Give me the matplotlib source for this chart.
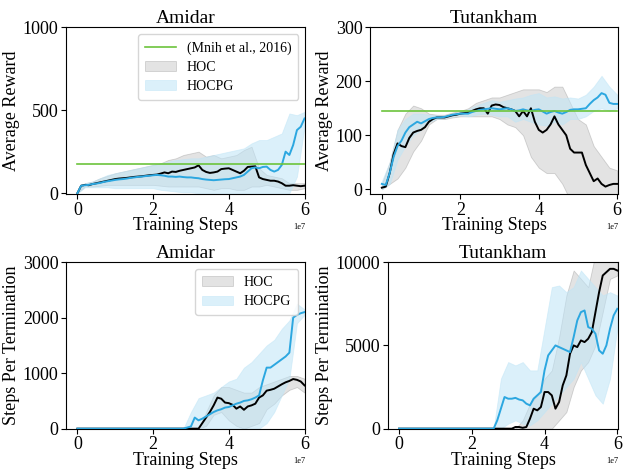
import numpy as np
import matplotlib
matplotlib.use("Agg")
import matplotlib.pyplot as plt

plt.rcParams['font.family'] = ['Liberation Serif', 'DejaVu Serif']
plt.rcParams['mathtext.fontset'] = 'stix'

# x positions in units of 1e7 training steps
steps = np.round(np.arange(0, 6.01, 0.1), 2)
band_steps = np.round(np.arange(0, 6.01, 0.2), 2)

# ---- Amidar, average reward ----
am_rew_hoc = [0, 45, 50, 48, 55, 60, 65, 70, 75, 80, 85, 88, 90, 92, 95, 98, 100, 102, 105, 108,
              110, 112, 118, 125, 120, 130, 128, 135, 140, 145, 150, 155, 168, 140, 128, 122, 125, 130, 145, 148,
              150, 140, 130, 120, 135, 158, 160, 162, 95, 85, 80, 75, 75, 70, 60, 45, 45, 48, 45, 42, 45]
am_rew_hocpg = [0, 45, 48, 50, 55, 58, 62, 68, 72, 76, 80, 83, 85, 88, 92, 95, 98, 100, 103, 105,
                108, 110, 108, 105, 100, 100, 98, 100, 97, 95, 95, 92, 90, 85, 82, 80, 78, 80, 82, 84,
                85, 90, 95, 100, 110, 130, 150, 155, 150, 158, 160, 140, 130, 140, 170, 250, 230, 290, 380, 400, 450]
am_rew_hoc_lo = [0, 40, 40, 45, 50, 50, 50, 50, 50, 50, 50, 45, 40, 40, 40, 40, 40, 30, 20, 30,
                 30, 20, 20, 40, 40, 50, 40, 30, 20, 20, 30]
am_rew_hoc_hi = [0, 60, 70, 90, 105, 120, 130, 140, 150, 160, 170, 180, 200, 210, 230, 240, 250, 220, 230, 210,
                 220, 230, 260, 280, 150, 110, 100, 90, 60, 60, 60]
am_rew_hocpg_lo = [0, 35, 35, 35, 35, 30, 30, 30, 30, 30, 30, 20, 15, 10, 5, 5, 0, 0, 0, 0,
                   0, 0, 0, 0, 0, 0, 0, 0, 0, 100, 400]
am_rew_hocpg_hi = [0, 60, 70, 90, 110, 120, 130, 140, 150, 160, 170, 180, 190, 200, 205, 210, 210, 220, 230, 240,
                   250, 260, 270, 300, 320, 320, 340, 360, 480, 470, 490]
am_baseline = 173

# ---- Tutankham, average reward ----
tu_rew_hoc = [3, 5, 30, 65, 85, 80, 78, 95, 105, 108, 110, 115, 125, 130, 133, 133, 133, 135, 137, 138,
              140, 141, 142, 145, 148, 150, 150, 140, 155, 157, 156, 152, 150, 148, 145, 135, 145, 135, 150, 125,
              110, 105, 110, 120, 135, 120, 110, 100, 75, 68, 68, 68, 45, 30, 15, 20, 10, 5, 8, 10, 10]
tu_rew_hocpg = [10, 8, 30, 60, 80, 90, 105, 115, 120, 125, 122, 126, 130, 132, 133, 133, 134, 136, 138, 139,
                140, 140, 140, 143, 145, 147, 148, 149, 150, 149, 148, 149, 150, 148, 145, 146, 148, 146, 145, 147,
                148, 144, 140, 143, 145, 142, 140, 143, 147, 148, 148, 149, 150, 158, 165, 170, 178, 175, 160, 158, 158]
tu_rew_hoc_lo = [0, 10, 20, 40, 70, 90, 120, 130, 130, 133, 135, 135, 135, 135, 135, 130, 120, 115, 100, 60,
                 40, 30, 30, 10, -20, -30, -30, -30, -20, -15, -10]
tu_rew_hoc_hi = [10, 50, 110, 140, 155, 150, 140, 138, 138, 142, 145, 150, 160, 165, 170, 170, 175, 180, 185, 185,
                 185, 180, 190, 190, 160, 130, 120, 80, 60, 40, 35]
tu_rew_hocpg_lo = [0, 10, 55, 80, 100, 110, 125, 130, 132, 135, 137, 135, 138, 140, 138, 135, 135, 125, 130, 125,
                   120, 118, 125, 120, 130, 130, 135, 145, 150, 145, 150]
tu_rew_hocpg_hi = [15, 50, 110, 130, 140, 140, 138, 137, 136, 140, 143, 148, 155, 160, 165, 162, 165, 168, 170, 175,
                   178, 170, 172, 168, 170, 168, 175, 190, 210, 190, 175]
tu_baseline = 144

# ---- Amidar, steps per termination ----
am_term_hoc = [0] * 33 + [100, 200, 300, 420, 560, 540, 470, 460, 430, 360, 400, 340, 400, 420, 450, 560,
                          600, 685, 700, 720, 760, 800, 835, 860, 894, 880, 850, 780]
am_term_hocpg = [0] * 29 + [20, 40, 200, 150, 180, 220, 260, 300, 330, 350, 380, 390, 420, 450, 470, 500, 510,
                            530, 560, 600, 870, 1100, 1100, 1150, 1200, 1250, 1300, 1370, 2000, 2050, 2080, 2100]
am_term_hoc_lo = [0] * 17 + [50, 250, 300, 150, 50, 0, 50, 100, 350, 450, 600, 700, 750, 650]
am_term_hoc_hi = [0] * 17 + [300, 600, 750, 750, 700, 650, 650, 750, 800, 850, 900, 950, 950, 900]
am_term_hocpg_lo = [0] * 25 + [100, 300, 600, 900, 1900, 2050]
am_term_hocpg_hi = [0] * 15 + [300, 550, 600, 650, 750, 850, 900, 1100, 1200, 1350, 1500, 1600, 1800, 1950, 2250, 2150]

# ---- Tutankham, steps per termination ----
tu_term_hoc = [0] * 32 + [100, 100, 50, 100, 600, 1200, 1100, 1300, 2200, 2200, 2000, 1200, 1600, 2600, 3200,
                          4500, 5000, 4900, 5300, 5200, 5400, 5800, 7000, 8200, 9200, 9400, 9600, 9600, 9500]
tu_term_hocpg = [0] * 27 + [500, 1200, 1900, 1800, 1800, 1850, 1750, 1700, 1500, 1400, 1800, 2000, 2200, 3500,
                            4400, 4700, 5000, 4900, 4800, 4700, 4600, 5500, 6500, 7000, 7100, 6100, 6000, 5700,
                            4700, 4500, 5000, 6000, 6800, 7200]
tu_term_hoc_lo = [0] * 22 + [500, 1000, 2500, 3500, 4000, 5000, 7000, 9000, 9200]
tu_term_hoc_hi = [0] * 17 + [500, 1500, 2000, 3000, 3500, 5500, 8000, 9500, 9000, 8500, 10500, 10500, 10500, 10000]
tu_term_hocpg_lo = [0] * 15 + [300, 500, 300, 200, 500, 1000, 1500, 2000, 2500, 3000, 4000, 3000, 2000, 1500, 3000, 6000]
tu_term_hocpg_hi = [0] * 14 + [3000, 4000, 3800, 4000, 3500, 3500, 6000, 8500, 8600, 8200, 8500, 9500, 9000, 8500,
                               8000, 8200, 8000]

BLUE = '#2ca7e0'
BLUE_FILL = '#bfe5f7'
GRAY_FILL = '#b0b0b0'
GREEN = '#6cc43c'

fig = plt.figure(figsize=(6.23, 4.69), dpi=100)
ax_tl = fig.add_axes([0.106, 0.586, 0.384, 0.356])
ax_tr = fig.add_axes([0.594, 0.586, 0.398, 0.356])
ax_bl = fig.add_axes([0.106, 0.086, 0.384, 0.355])
ax_br = fig.add_axes([0.623, 0.086, 0.369, 0.355])


def draw(ax, title, hoc, hocpg, hoc_lo, hoc_hi, pg_lo, pg_hi, baseline=None):
    x = steps * 1e7
    xb = band_steps * 1e7
    if baseline is not None:
        ax.plot([0, 6e7], [baseline, baseline], color=GREEN, lw=1.2, label='(Mnih et al., 2016)', zorder=4)
    ax.fill_between(xb, hoc_lo, hoc_hi, facecolor=GRAY_FILL, edgecolor='#888888', alpha=0.35, lw=0.6, label='HOC')
    ax.fill_between(xb, pg_lo, pg_hi, facecolor=BLUE_FILL, edgecolor=BLUE_FILL, alpha=0.55, lw=0.6, label='HOCPG')
    ax.plot(x, hoc, color='black', lw=1.4, zorder=3)
    ax.plot(x, hocpg, color=BLUE, lw=1.4, zorder=3)
    ax.set_xlim(-0.3e7, 6.02e7)
    ax.set_xticks([0, 2e7, 4e7, 6e7])
    ax.set_xlabel('Training Steps', fontsize=13, labelpad=-1)
    ax.tick_params(labelsize=13, pad=2)
    ax.xaxis.get_offset_text().set_fontsize(6)
    ax.set_title(title, fontsize=14, pad=2)


draw(ax_tl, 'Amidar', am_rew_hoc, am_rew_hocpg, am_rew_hoc_lo, am_rew_hoc_hi,
     am_rew_hocpg_lo, am_rew_hocpg_hi, am_baseline)
ax_tl.set_ylim(-6, 1000)
ax_tl.set_yticks([0, 500, 1000])
ax_tl.set_ylabel('Average Reward', fontsize=13, labelpad=2)
ax_tl.legend(loc='upper right', fontsize=10, handlelength=2.2, borderpad=0.5, labelspacing=0.45)

draw(ax_tr, 'Tutankham', tu_rew_hoc, tu_rew_hocpg, tu_rew_hoc_lo, tu_rew_hoc_hi,
     tu_rew_hocpg_lo, tu_rew_hocpg_hi, tu_baseline)
ax_tr.set_ylim(-9, 300)
ax_tr.set_yticks([0, 100, 200, 300])
ax_tr.set_ylabel('Average Reward', fontsize=13, labelpad=2)

draw(ax_bl, 'Amidar', am_term_hoc, am_term_hocpg, am_term_hoc_lo, am_term_hoc_hi,
     am_term_hocpg_lo, am_term_hocpg_hi)
ax_bl.set_ylim(0, 3000)
ax_bl.set_yticks([0, 1000, 2000, 3000])
ax_bl.set_ylabel('Steps Per Termination', fontsize=13, labelpad=2)
ax_bl.legend(loc='upper right', fontsize=10, handlelength=2.2, borderpad=0.5, labelspacing=0.45)

draw(ax_br, 'Tutankham', tu_term_hoc, tu_term_hocpg, tu_term_hoc_lo, tu_term_hoc_hi,
     tu_term_hocpg_lo, tu_term_hocpg_hi)
ax_br.set_ylim(0, 10000)
ax_br.set_yticks([0, 5000, 10000])
ax_br.set_ylabel('Steps Per Termination', fontsize=13, labelpad=2)

fig.savefig('out.png', dpi=100)
